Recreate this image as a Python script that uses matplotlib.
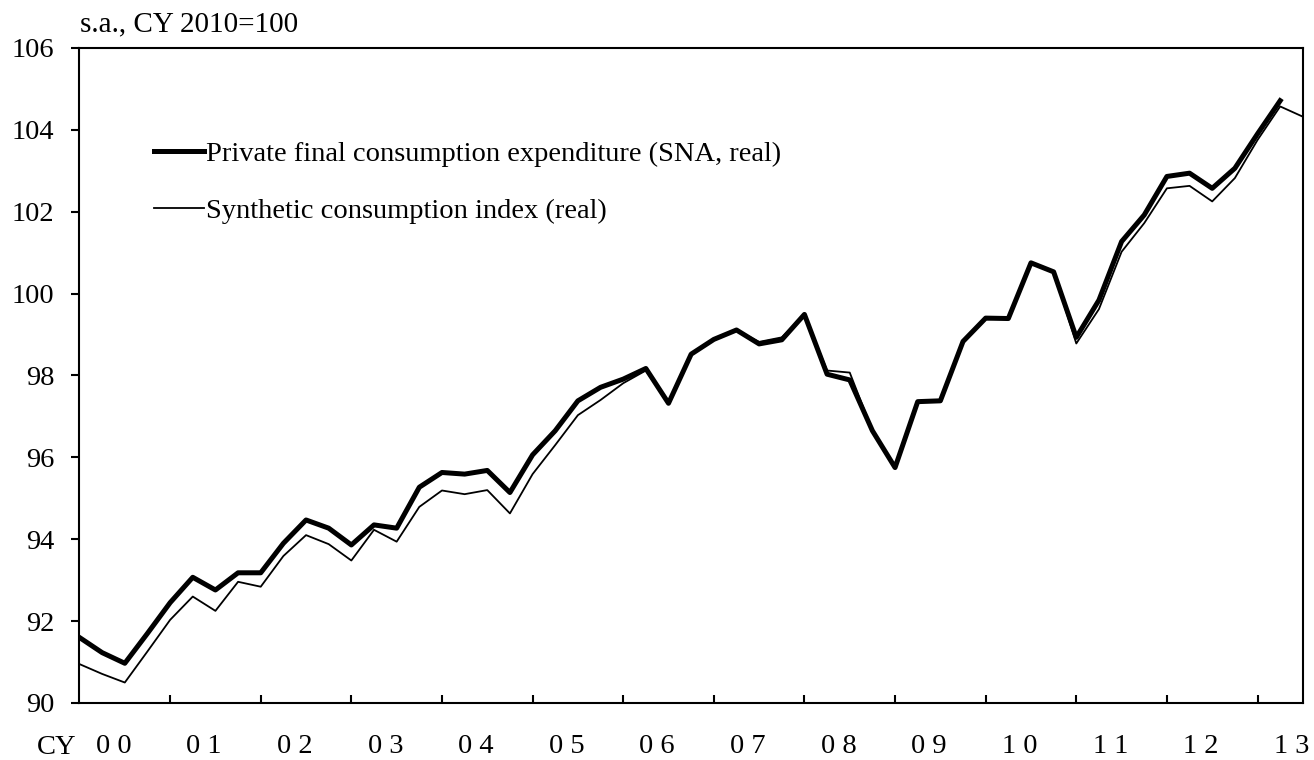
import numpy as np
import matplotlib
matplotlib.use('Agg')
import matplotlib.pyplot as plt
from matplotlib.transforms import blended_transform_factory

plt.rcParams['font.family'] = ['Liberation Serif', 'DejaVu Serif']

# quarterly, 2000Q1 onwards
sna = [91.60, 91.23, 90.97, 91.70, 92.45, 93.07, 92.76, 93.18, 93.18, 93.90,
       94.47, 94.27, 93.86, 94.35, 94.27, 95.27, 95.63, 95.59, 95.68, 95.14,
       96.06, 96.65, 97.38, 97.71, 97.91, 98.17, 97.32, 98.52, 98.88, 99.11,
       98.77, 98.87, 99.49, 98.03, 97.89, 96.65, 95.75, 97.36, 97.38, 98.83,
       99.40, 99.39, 100.75, 100.53, 98.93, 99.84, 101.27, 101.92, 102.86, 102.94,
       102.57, 103.06, 103.90, 104.71]
synth = [90.95, 90.71, 90.50, 91.26, 92.03, 92.60, 92.25, 92.96, 92.84, 93.59,
         94.10, 93.88, 93.48, 94.23, 93.94, 94.79, 95.19, 95.10, 95.20, 94.63,
         95.59, 96.30, 97.03, 97.40, 97.81, 98.12, 97.32, 98.52, 98.88, 99.11,
         98.82, 98.93, 99.49, 98.12, 98.07, 96.65, 95.75, 97.36, 97.38, 98.83,
         99.37, 99.39, 100.75, 100.53, 98.78, 99.62, 101.02, 101.72, 102.57, 102.63,
         102.25, 102.82, 103.75, 104.57, 104.32]
years = ['0 0', '0 1', '0 2', '0 3', '0 4', '0 5', '0 6', '0 7', '0 8', '0 9',
         '1 0', '1 1', '1 2', '1 3']

fig = plt.figure(figsize=(13.14, 7.6), dpi=100)
ax = fig.add_axes([0.0605, 0.075, 0.931, 0.862])

ax.plot(np.arange(len(sna)), sna, color='black', lw=3.6,
        label='Private final consumption expenditure (SNA, real)')
ax.plot(np.arange(len(synth)), synth, color='black', lw=1.3,
        label='Synthetic consumption index (real)')

ax.set_xlim(0, 54)
ax.set_ylim(90, 106)
ax.set_yticks(np.arange(90, 107, 2))
ax.tick_params(axis='y', direction='out', length=6, width=1.5, labelsize=20.5, pad=12)
ax.set_xticks(np.arange(4, 54, 4))
ax.tick_params(axis='x', which='major', direction='in', length=6, width=1.5, labelbottom=False)
ax.set_xticks(np.arange(len(years)) * 4 + 1.5, years, minor=True)
ax.tick_params(axis='x', which='minor', length=0, labelsize=20.5, pad=22)
for s in ax.spines.values():
    s.set_linewidth(1.5)

trans = blended_transform_factory(ax.transData, ax.transAxes)
ax.text(-1.0, -0.068, 'CY', transform=trans, ha='center', va='center', fontsize=20.5)
fig.text(80 / 1314, 1 - 24 / 760, 's.a., CY 2010=100', ha='left', va='center', fontsize=21)

ax.legend(loc='upper left', bbox_to_anchor=(0.052, 0.875), frameon=False, fontsize=20.5,
          handlelength=1.75, handletextpad=0.05, labelspacing=1.1, borderaxespad=0)

fig.savefig('out.png', dpi=100)
